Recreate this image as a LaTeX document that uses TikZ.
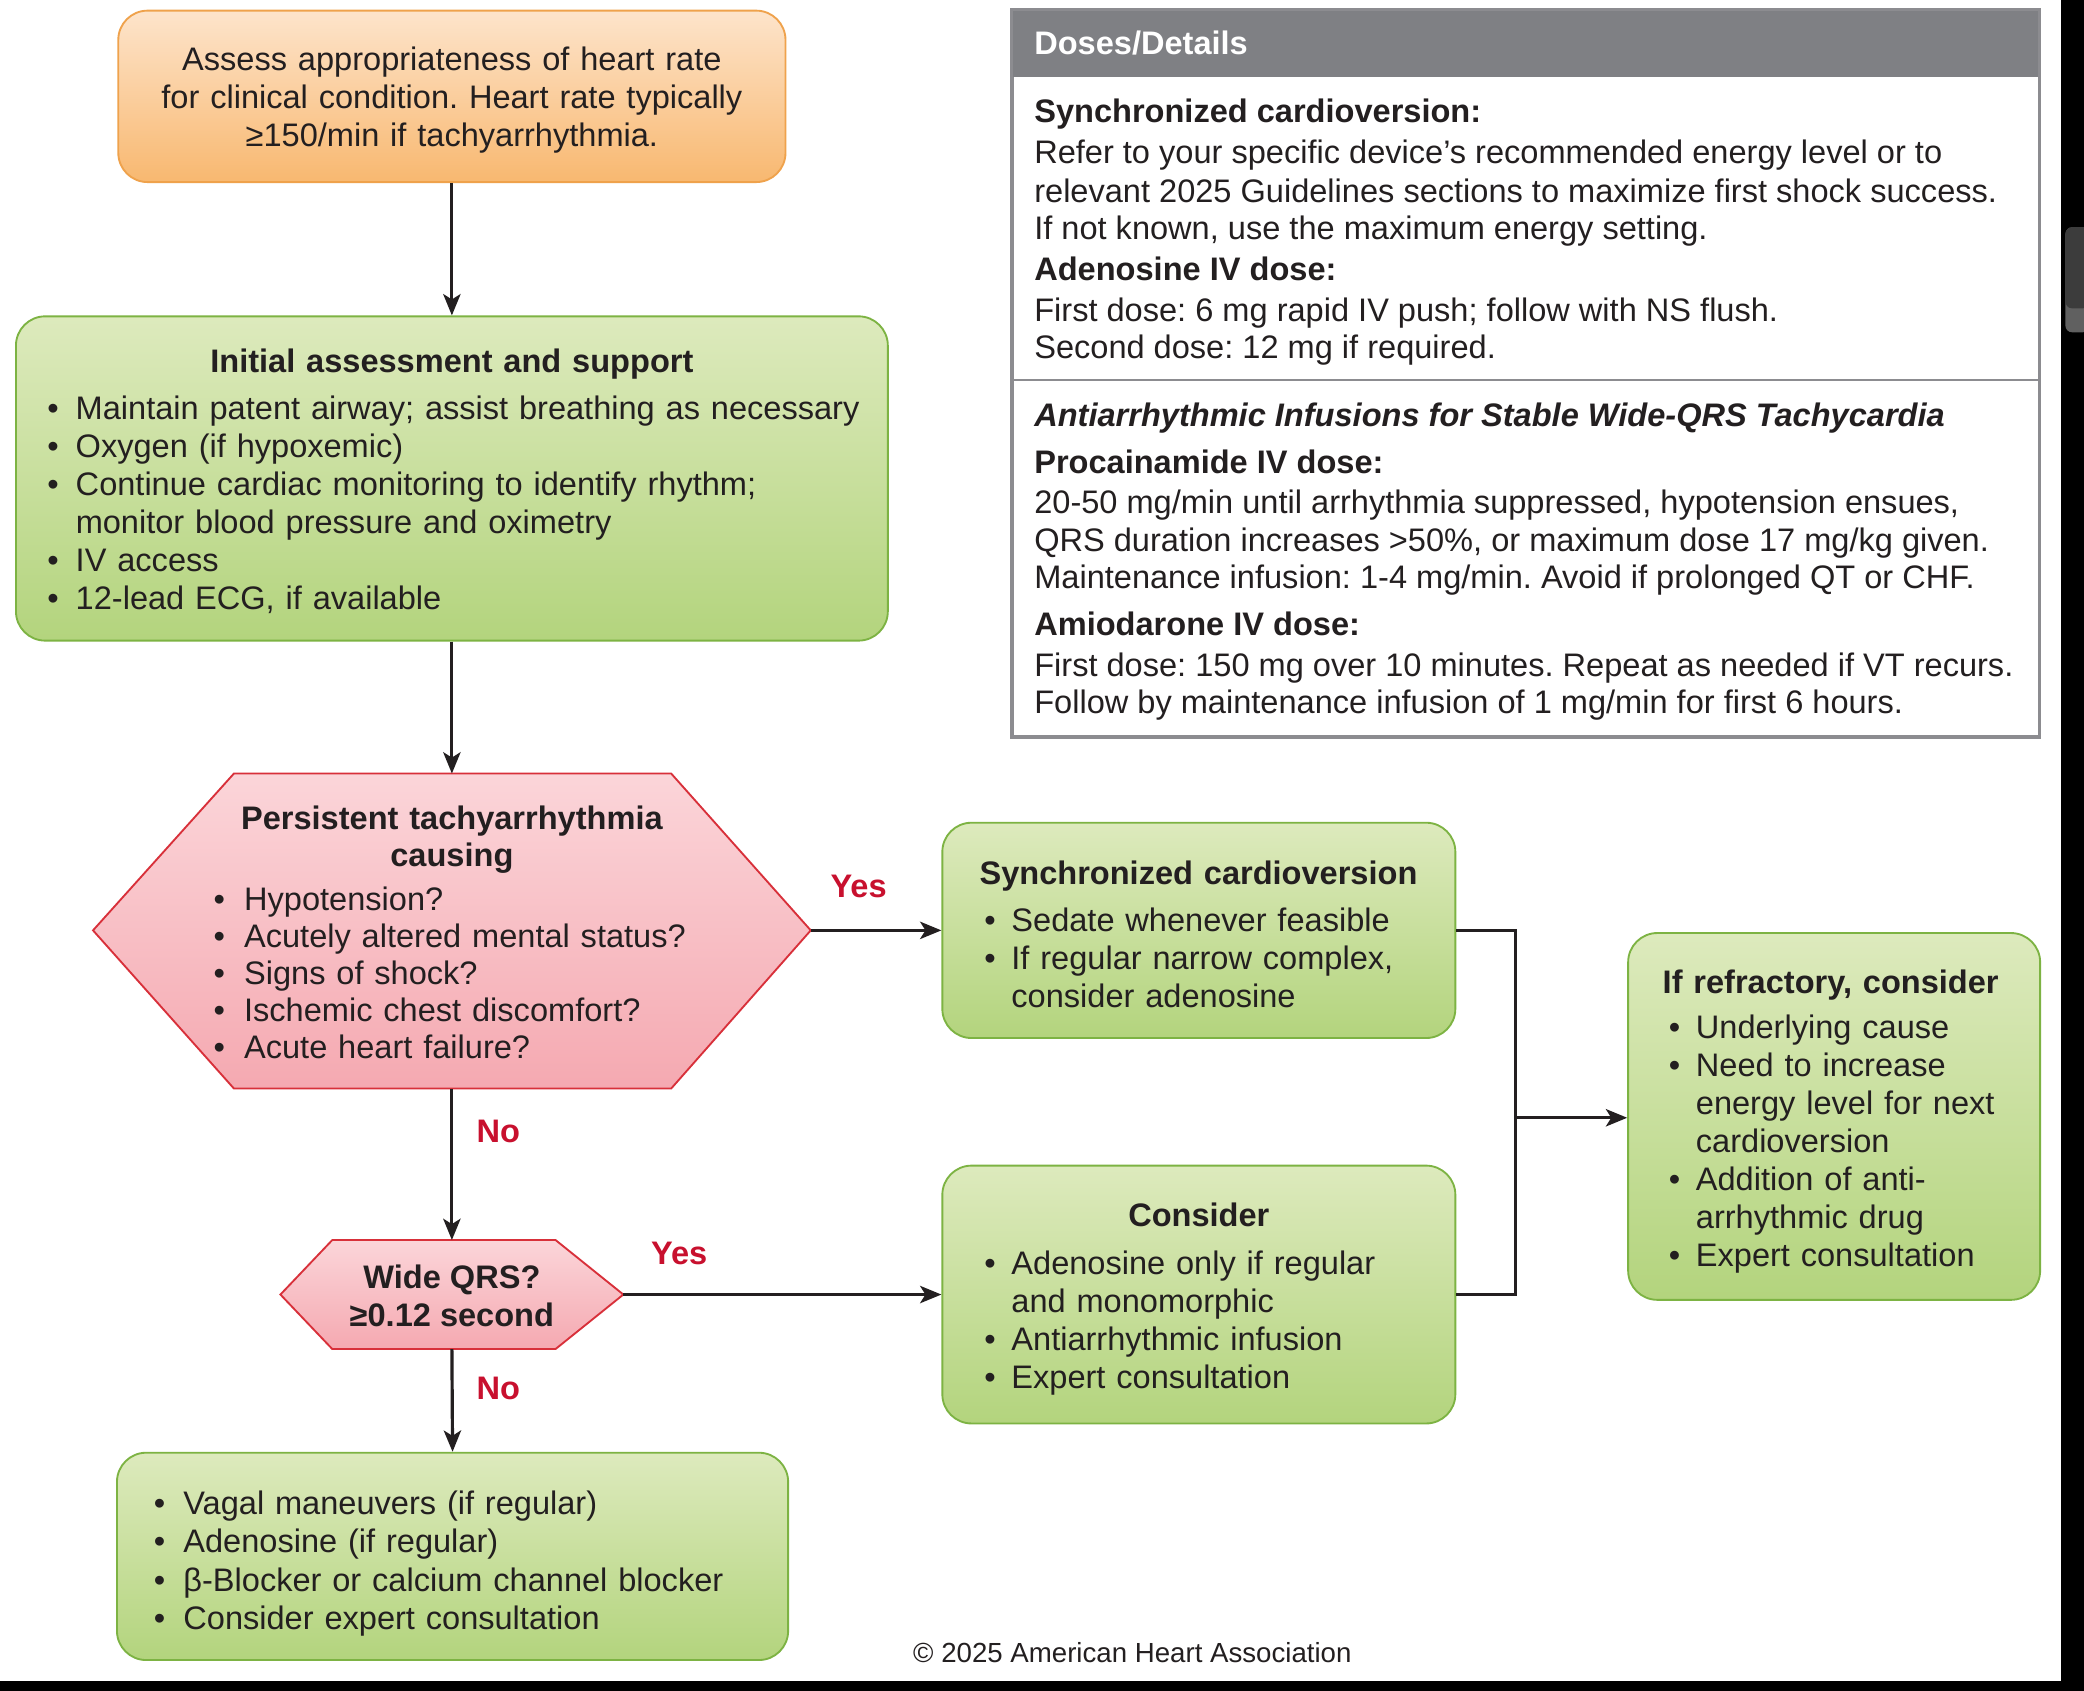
\documentclass[tikz,border=0pt]{standalone}
\usepackage{fontspec}
\setmainfont{Liberation Sans}
\usetikzlibrary{arrows.meta}
\definecolor{txt}{HTML}{231F20}
\definecolor{otop}{HTML}{FDE4CB}
\definecolor{obot}{HTML}{F8B870}
\definecolor{oborder}{HTML}{EFA24C}
\definecolor{gtop}{HTML}{DDEABD}
\definecolor{gbot}{HTML}{B3D47D}
\definecolor{gborder}{HTML}{7DB343}
\definecolor{ptop}{HTML}{FBD5D9}
\definecolor{pbot}{HTML}{F5A9B1}
\definecolor{pborder}{HTML}{D8303A}
\definecolor{hgray}{HTML}{7F8084}
\definecolor{pgray}{HTML}{8C8C90}
\definecolor{lred}{HTML}{C8102E}
\definecolor{sbdark}{HTML}{3C3C3C}
\definecolor{sblight}{HTML}{606060}
\setlength{\parskip}{0pt}
\frenchspacing
\newlength\boff
\newlength\bgap
\newlength\tgap
\newcommand\fsz{\fontsize{24.5pt}{28.6pt}\selectfont\frenchspacing}
\newcommand\fsh{\fontsize{24.5pt}{27.8pt}\selectfont\frenchspacing}
\newcommand\fsc{\fontsize{20.8pt}{24pt}\selectfont\frenchspacing}
\newcommand\bl[1]{\par\noindent\hspace*{\boff}\makebox[\bgap][l]{•}\mbox{#1}}
\newcommand\cl[1]{\par\noindent\hspace*{\boff}\hspace*{\bgap}\mbox{#1}}
\newcommand\ctitle[1]{\noindent{\centering\bfseries #1\par}\vspace{\tgap}}
\newcommand\ltitle[1]{\noindent\mbox{\bfseries #1}\par\vspace{\tgap}}
\newcommand\topsp[1]{\rule{0pt}{#1}}
\begin{document}
\begin{tikzpicture}[x=1pt,y=-1pt,
  box/.style={rounded corners=22pt, line width=1.4pt, inner sep=0pt, text=txt, font=\fsz},
  gbox/.style={box, draw=gborder, top color=gtop, bottom color=gbot},
  obox/.style={box, draw=oborder, top color=otop, bottom color=obot},
  hexshape/.style={draw=pborder, line width=1.4pt, top color=ptop, bottom color=pbot},
  hextext/.style={inner sep=0pt, text=txt, font=\fsz},
  arr/.style={line width=2.4pt, draw=txt, -{Stealth[length=16pt,width=13pt,inset=4pt]}},
  conn/.style={line width=2.4pt, draw=txt},
  lbl/.style={text=lred, font=\fsz\bfseries, inner sep=0pt},
  dline/.style={anchor=base west, inner sep=0pt, font=\fsz, text=txt},
]
\useasboundingbox (0,0) rectangle (1568,1272);
\fill[white] (0,0) rectangle (1568,1272);

% ---------- Doses panel ----------
\node[draw=pgray, line width=1.8pt, minimum width=772pt, minimum height=546pt,
      anchor=north west, inner sep=0pt] (panel) at (761,7) {};
\node[fill=hgray, minimum width=772pt, minimum height=51pt, anchor=north west,
      inner sep=0pt, text width=738pt, align=left, font=\fsz\bfseries, text=white] (hdr) at (761,7) {Doses/Details};
\draw[pgray, line width=1.8pt] (panel.north west) rectangle (panel.south east);
\draw[pgray, line width=1.8pt] (761,286) -- (1533,286);

\node[dline, font=\fsz\bfseries] (d1) at (778,92) {Synchronized cardioversion:};
\node[dline] (d2) at (778,123) {Refer to your specific device’s recommended energy level or to};
\node[dline] (d3) at (778,152) {relevant 2025 Guidelines sections to maximize first shock success.};
\node[dline] (d4) at (778,180) {If not known, use the maximum energy setting.};
\node[dline, font=\fsz\bfseries] (d5) at (778,211) {Adenosine IV dose:};
\node[dline] (d6) at (778,242) {First dose: 6 mg rapid IV push; follow with NS flush.};
\node[dline] (d7) at (778,270) {Second dose: 12 mg if required.};
\node[dline, font=\fsz\bfseries\itshape] (d8) at (778,321) {Antiarrhythmic Infusions for Stable Wide-QRS Tachycardia};
\node[dline, font=\fsz\bfseries] (d9) at (778,356) {Procainamide IV dose:};
\node[dline] (d10) at (778,386) {20-50 mg/min until arrhythmia suppressed, hypotension ensues,};
\node[dline] (d11) at (778,415) {QRS duration increases >50\%, or maximum dose 17 mg/kg given.};
\node[dline] (d12) at (778,443) {Maintenance infusion: 1-4 mg/min. Avoid if prolonged QT or CHF.};
\node[dline, font=\fsz\bfseries] (d13) at (778,478) {Amiodarone IV dose:};
\node[dline] (d14) at (778,509) {First dose: 150 mg over 10 minutes. Repeat as needed if VT recurs.};
\node[dline] (d15) at (778,537) {Follow by maintenance infusion of 1 mg/min for first 6 hours.};

% ---------- Flow boxes ----------
\node[obox, minimum width=502pt, minimum height=129pt, text width=480pt, align=center] (b1) at (340,72.5)
  {\topsp{24pt}Assess appropriateness of heart rate\\for clinical condition. Heart rate typically\\≥150/min if tachyarrhythmia.};

\node[gbox, minimum width=656pt, minimum height=244pt, text width=608.6pt] (b2) at (340,360)
  {\setlength\bgap{21.3pt}\setlength\tgap{6.4pt}\topsp{22pt}%
   \ctitle{Initial assessment and support}%
   \bl{Maintain patent airway; assist breathing as necessary}%
   \bl{Oxygen (if hypoxemic)}%
   \bl{Continue cardiac monitoring to identify rhythm;}%
   \cl{monitor blood pressure and oximetry}%
   \bl{IV access}%
   \bl{12-lead ECG, if available}};

% hexagon 1
\path[hexshape] (176,582) -- (505,582) -- (610,700) -- (505,819) -- (176,819) -- (70,700) -- cycle;
\coordinate (h1T) at (340,582);
\coordinate (h1B) at (340,819);
\coordinate (h1R) at (610,700);
\node[hextext, text width=358.6pt, font=\fsh] (hex1) at (340,701.5)
  {\setlength\bgap{23pt}\setlength\tgap{5.2pt}\topsp{18pt}%
   \ctitle{Persistent tachyarrhythmia\\causing}%
   \bl{Hypotension?}%
   \bl{Acutely altered mental status?}%
   \bl{Signs of shock?}%
   \bl{Ischemic chest discomfort?}%
   \bl{Acute heart failure?}};

% hexagon 2
\path[hexshape] (250,933) -- (418,933) -- (469,974) -- (418,1015) -- (250,1015) -- (211,974) -- cycle;
\coordinate (h2T) at (340,933);
\coordinate (h2B) at (340,1015);
\coordinate (h2R) at (469,974);
\node[hextext, align=center, font=\fsz\bfseries] (hex2) at (340,975) {Wide QRS?\\≥0.12 second};

\node[gbox, minimum width=386pt, minimum height=162pt, text width=330pt] (b3) at (902,700)
  {\setlength\boff{3.7pt}\setlength\bgap{20.3pt}\setlength\tgap{6.4pt}\topsp{24pt}%
   \ltitle{Synchronized cardioversion}%
   \bl{Sedate whenever feasible}%
   \bl{If regular narrow complex,}%
   \cl{consider adenosine}};

\node[gbox, minimum width=386pt, minimum height=194pt, text width=322.6pt] (b4) at (902,974)
  {\setlength\bgap{20.3pt}\setlength\tgap{7.4pt}\topsp{24pt}%
   \ctitle{Consider}%
   \bl{Adenosine only if regular}%
   \cl{and monomorphic}%
   \bl{Antiarrhythmic infusion}%
   \bl{Expert consultation}};

\node[gbox, minimum width=505pt, minimum height=156pt, text width=449.6pt] (b5) at (340.5,1171)
  {\setlength\bgap{22.3pt}%
   \bl{Vagal maneuvers (if regular)}%
   \bl{Adenosine (if regular)}%
   \bl{β-Blocker or calcium channel blocker}%
   \bl{Consider expert consultation}};

\node[gbox, minimum width=310pt, minimum height=276pt, text width=258pt] (b6) at (1380,840)
  {\setlength\boff{4.7pt}\setlength\bgap{20.3pt}\setlength\tgap{5.4pt}\topsp{26pt}%
   \ltitle{If refractory, consider}%
   \bl{Underlying cause}%
   \bl{Need to increase}%
   \cl{energy level for next}%
   \cl{cardioversion}%
   \bl{Addition of anti-}%
   \cl{arrhythmic drug}%
   \bl{Expert consultation}};

% ---------- Connectors ----------
\draw[arr] (b1.south) -- (b2.north);
\draw[arr] (b2.south) -- (h1T);
\draw[arr] (h1R) -- (b3.west);
\draw[arr] (h1B) -- (h2T);
\draw[arr] (h2R) -- (b4.west);
\draw[arr] (h2B) -- (b5.north);
\coordinate (jn) at (1140,841);
\draw[conn] (b3.east) -| (jn) |- (b4.east);
\draw[arr] (jn) -- (b6.west |- jn);

% ---------- Labels ----------
\node[lbl] (yes1) at (646,667) {Yes};
\node[lbl] (no1) at (375,851) {No};
\node[lbl] (yes2) at (511,943) {Yes};
\node[lbl] (no2) at (375,1045) {No};

\node[anchor=base, inner sep=0pt, font=\fsc, text=txt] (copy) at (852,1251) {© 2025 American Heart Association};

% ---------- screen edges ----------
\fill[black] (1551,0) rectangle (1568,1272);
\fill[black] (0,1265) rectangle (1568,1272);
\fill[sblight, rounded corners=5pt] (1554,171) rectangle (1572,250);
\fill[sbdark, rounded corners=5pt] (1554,171) rectangle (1572,232);
\end{tikzpicture}
\end{document}
